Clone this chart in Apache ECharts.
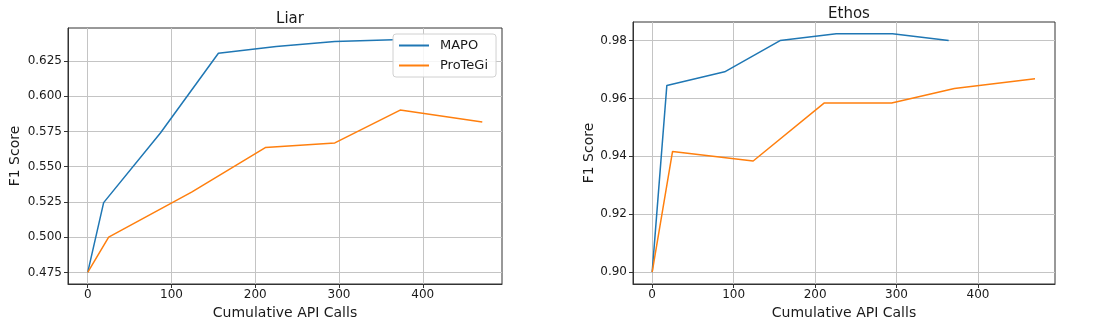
<!DOCTYPE html>
<html>
<head>
<meta charset="utf-8">
<title>Liar / Ethos</title>
<script src="https://cdn.jsdelivr.net/npm/echarts/dist/echarts.min.js"></script>
<style>
  html, body { margin: 0; padding: 0; background: #fff; }
  #chart { width: 1108px; height: 332px; }
</style>
</head>
<body>
<div id="chart"></div>
<script>
// values
const liarMapoCalls = [0, 19, 87, 156, 225, 295, 365]
const liarMapoF1 = [0.475, 0.5245, 0.574, 0.6304, 0.6352, 0.6388, 0.6400]
const liarProtegiCalls = [0, 25, 124, 212, 295, 373, 471]
const liarProtegiF1 = [0.475, 0.500, 0.532, 0.5635, 0.5668, 0.5901, 0.5817]

const ethosMapoCalls = [0, 18, 89, 157, 226, 295, 364]
const ethosMapoF1 = [0.900, 0.9645, 0.9692, 0.980, 0.9823, 0.9823, 0.980]
const ethosProtegiCalls = [0, 25, 124, 211, 294, 371, 470]
const ethosProtegiF1 = [0.900, 0.9417, 0.9384, 0.9584, 0.9584, 0.9634, 0.9668]

const xTicks = [0, 100, 200, 300, 400]
const liarTicks = [0.475, 0.500, 0.525, 0.550, 0.575, 0.600, 0.625]
const ethosTicks = [0.90, 0.92, 0.94, 0.96, 0.98]

const font = 'DejaVu Sans'
const textColor = '#1a1a1a'
const blue = '#1f77b4'
const orange = '#ff7f0e'

const pairs = (xs, ys) => xs.map((x, i) => [x, ys[i]])

function xAxis(gridIndex) {
  return {
    gridIndex,
    type: 'value',
    min: -23.55,
    max: 494.55,
    name: 'Cumulative API Calls',
    nameLocation: 'middle',
    nameGap: 19,
    nameTextStyle: { fontFamily: font, fontSize: 14, color: textColor },
    axisLine: { show: true, onZero: false, lineStyle: { color: '#333' } },
    axisTick: { show: true, customValues: xTicks, length: 4, lineStyle: { color: '#333' } },
    axisLabel: { customValues: xTicks, fontFamily: font, fontSize: 12, color: textColor, margin: 5 },
    splitLine: { show: true, lineStyle: { color: '#c4c4c4', width: 1 } }
  }
}

function yAxis(gridIndex, min, max, ticks, digits, gap) {
  return {
    gridIndex,
    type: 'value',
    min,
    max,
    name: 'F1 Score',
    nameLocation: 'middle',
    nameGap: gap,
    nameTextStyle: { fontFamily: font, fontSize: 14, color: textColor },
    axisLine: { show: true, onZero: false, lineStyle: { color: '#333' } },
    axisTick: { show: true, customValues: ticks, length: 4, lineStyle: { color: '#333' } },
    axisLabel: {
      customValues: ticks,
      fontFamily: font, fontSize: 12, color: textColor, margin: 6,
      formatter: v => v.toFixed(digits)
    },
    splitLine: { show: true, lineStyle: { color: '#c4c4c4', width: 1 } }
  }
}

function line(name, color, data, idx) {
  return {
    name,
    type: 'line',
    xAxisIndex: idx,
    yAxisIndex: idx,
    data,
    symbol: 'none',
    lineStyle: { color, width: 1.5 },
    itemStyle: { color },
    animation: false
  }
}

const chart = echarts.init(document.getElementById('chart'))
chart.setOption({
  animation: false,
  title: [
    { text: 'Liar', left: 285, top: 7, textAlign: 'center',
      textStyle: { fontFamily: font, fontSize: 15, fontWeight: 'normal', color: textColor } },
    { text: 'Ethos', left: 844, top: 2, textAlign: 'center',
      textStyle: { fontFamily: font, fontSize: 15, fontWeight: 'normal', color: textColor } }
  ],
  grid: [
    { left: 68, right: 606, top: 28, bottom: 48, show: true, borderColor: '#333', borderWidth: 1 },
    { left: 633, right: 53, top: 22, bottom: 48, show: true, borderColor: '#333', borderWidth: 1 }
  ],
  legend: {
    data: ['MAPO', 'ProTeGi'],
    orient: 'vertical',
    left: 393,
    top: 34,
    padding: [5, 8, 5, 5],
    itemGap: 7,
    itemWidth: 30,
    itemHeight: 13,
    // hide the marker the line legend icon adds, keep only the line
    itemStyle: { opacity: 0 },
    backgroundColor: 'rgba(255,255,255,0.85)',
    borderColor: '#d0d0d0',
    borderWidth: 1,
    borderRadius: 3,
    textStyle: { fontFamily: font, fontSize: 13, color: textColor, padding: [0, 0, 0, 6] }
  },
  xAxis: [xAxis(0), xAxis(1)],
  yAxis: [
    yAxis(0, 0.4668, 0.6483, liarTicks, 3, 46),
    yAxis(1, 0.8959, 0.9864, ethosTicks, 2, 34)
  ],
  series: [
    line('MAPO', blue, pairs(liarMapoCalls, liarMapoF1), 0),
    line('ProTeGi', orange, pairs(liarProtegiCalls, liarProtegiF1), 0),
    line('MAPO', blue, pairs(ethosMapoCalls, ethosMapoF1), 1),
    line('ProTeGi', orange, pairs(ethosProtegiCalls, ethosProtegiF1), 1)
  ]
})
</script>
</body>
</html>
